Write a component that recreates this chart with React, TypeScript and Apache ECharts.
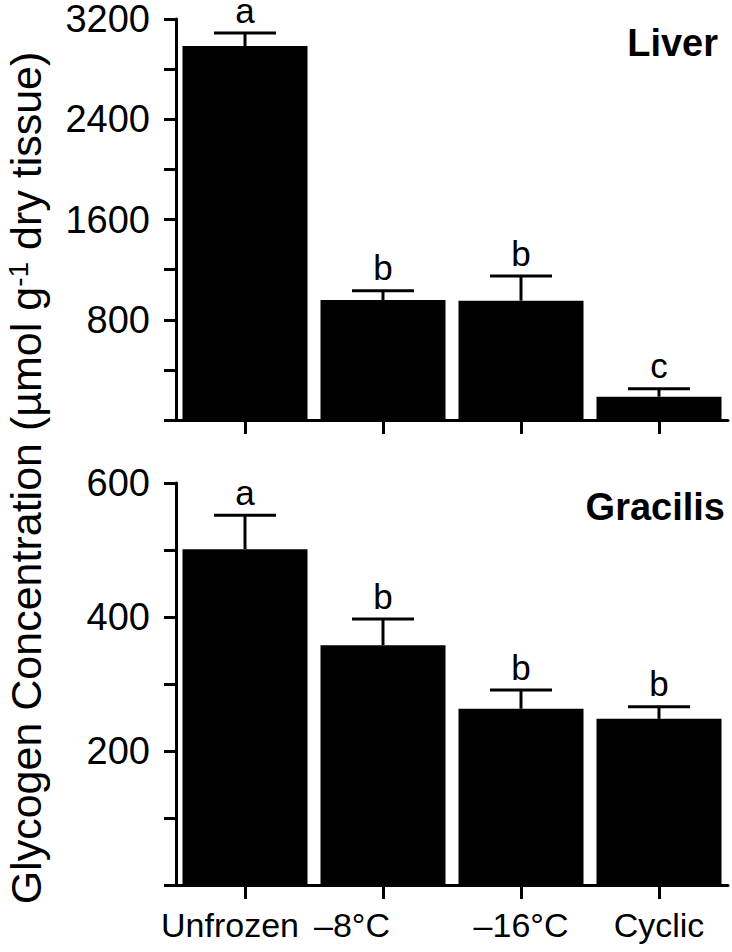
import React, { useEffect, useRef } from 'react';
import * as echarts from 'echarts';

const FONT = '"Liberation Sans", Arial, Helvetica, sans-serif';

const categories = ['Unfrozen', '–8°C', '–16°C', 'Cyclic'];

const liverMean = [2985, 958, 952, 186];
const liverSE = [103, 74, 197, 64];
const liverLetters = ['a', 'b', 'b', 'c'];

const gracilisMean = [501, 358, 263, 248];
const gracilisSE = [51, 39, 28, 18];
const gracilisLetters = ['a', 'b', 'b', 'b'];

const liverMax = 3200;
const liverStep = 400;
const liverLabelStep = 800;
const gracilisMax = 600;
const gracilisStep = 100;
const gracilisLabelStep = 200;

export default function App() {
  const ref = useRef<HTMLDivElement>(null);

  useEffect(() => {
    document.body.style.margin = '0';
    const chart = echarts.init(ref.current as HTMLDivElement, null, { renderer: 'svg' });

    const makeErr = (means: number[], ses: number[], letters: string[], idx: number) => ({
      type: 'custom',
      xAxisIndex: idx,
      yAxisIndex: idx,
      clip: false,
      z: 5,
      encode: { x: 0, y: 1 },
      data: means.map((m, i) => [i, m, ses[i]]),
      renderItem: (params: any, api: any) => {
        const i = api.value(0);
        const m = api.value(1);
        const e = api.value(2);
        const b = api.coord([i, m]);
        const t = api.coord([i, m + e]);
        const half = 31;
        return {
          type: 'group',
          children: [
            { type: 'line', shape: { x1: b[0], y1: b[1], x2: t[0], y2: t[1] }, style: { stroke: '#000', lineWidth: 3 } },
            { type: 'line', shape: { x1: t[0] - half, y1: t[1], x2: t[0] + half, y2: t[1] }, style: { stroke: '#000', lineWidth: 3 } },
            {
              type: 'text',
              x: t[0],
              y: t[1] - 23,
              style: {
                text: letters[params.dataIndex],
                fontSize: 35,
                lineHeight: 18,
                fontFamily: FONT,
                fill: '#000',
                align: 'center',
                verticalAlign: 'middle',
              },
            },
          ],
        };
      },
    });

    const axisLineStyle = { color: '#000', width: 3 };

    const makeX = (idx: number, showLabels: boolean) => ({
      type: 'category',
      gridIndex: idx,
      data: categories,
      boundaryGap: true,
      axisLine: { show: true, lineStyle: axisLineStyle },
      axisTick: { show: true, alignWithLabel: true, length: 14, lineStyle: { color: '#000', width: 3 } },
      axisLabel: {
        show: showLabels,
        margin: 23,
        fontSize: 34,
        fontFamily: FONT,
        color: '#000',
        interval: 0,
        formatter: (v: string, i: number) => `{l${i}|${v}}`,
        rich: {
          l0: { fontSize: 34, fontFamily: FONT, color: '#000', padding: [0, 30, 0, 0] },
          l1: { fontSize: 34, fontFamily: FONT, color: '#000', padding: [0, 62, 0, 0] },
          l2: { fontSize: 34, fontFamily: FONT, color: '#000' },
          l3: { fontSize: 34, fontFamily: FONT, color: '#000' },
        },
      },
      splitLine: { show: false },
    });

    const makeY = (idx: number, max: number, step: number, labelStep: number) => ({
      type: 'value',
      gridIndex: idx,
      min: 0,
      max,
      interval: step,
      axisLine: { show: true, lineStyle: axisLineStyle },
      axisTick: { show: true, length: 12, lineStyle: { color: '#000', width: 3 } },
      axisLabel: {
        margin: 26,
        fontSize: 38,
        lineHeight: 30,
        fontFamily: FONT,
        color: '#000',
        formatter: (v: number) => (v !== 0 && v % labelStep === 0 ? String(v) : ''),
      },
      splitLine: { show: false },
    });

    chart.setOption({
      animation: false,
      backgroundColor: '#fff',
      grid: [
        { left: 176, top: 19, width: 552, height: 401 },
        { left: 176, top: 483, width: 552, height: 402 },
      ],
      xAxis: [makeX(0, false), makeX(1, true)],
      yAxis: [
        makeY(0, liverMax, liverStep, liverLabelStep),
        makeY(1, gracilisMax, gracilisStep, gracilisLabelStep),
      ],
      graphic: [
        {
          type: 'text',
          x: 26,
          y: 478,
          rotation: Math.PI / 2,
          style: {
            text: '{t|Glycogen Concentration (µmol g}{s|-1}{t| dry tissue)}',
            align: 'center',
            verticalAlign: 'middle',
            rich: {
              t: { fontSize: 43, lineHeight: 44, fontFamily: FONT, fill: '#000', verticalAlign: 'middle' },
              s: { fontSize: 28, lineHeight: 30, fontFamily: FONT, fill: '#000', verticalAlign: 'top' },
            },
          },
        },
        {
          type: 'text',
          x: 718,
          y: 43,
          style: { text: 'Liver', fontSize: 38, fontWeight: 'bold', fontFamily: FONT, fill: '#000', align: 'right', verticalAlign: 'middle' },
        },
        {
          type: 'text',
          x: 725,
          y: 507,
          style: { text: 'Gracilis', fontSize: 38, fontWeight: 'bold', fontFamily: FONT, fill: '#000', align: 'right', verticalAlign: 'middle' },
        },
      ],
      series: [
        { type: 'bar', xAxisIndex: 0, yAxisIndex: 0, data: liverMean, barWidth: 125, itemStyle: { color: '#000' }, z: 2 },
        makeErr(liverMean, liverSE, liverLetters, 0),
        { type: 'bar', xAxisIndex: 1, yAxisIndex: 1, data: gracilisMean, barWidth: 125, itemStyle: { color: '#000' }, z: 2 },
        makeErr(gracilisMean, gracilisSE, gracilisLetters, 1),
      ],
    });

    return () => {
      chart.dispose();
    };
  }, []);

  return <div ref={ref} style={{ width: 732, height: 952 }} />;
}
